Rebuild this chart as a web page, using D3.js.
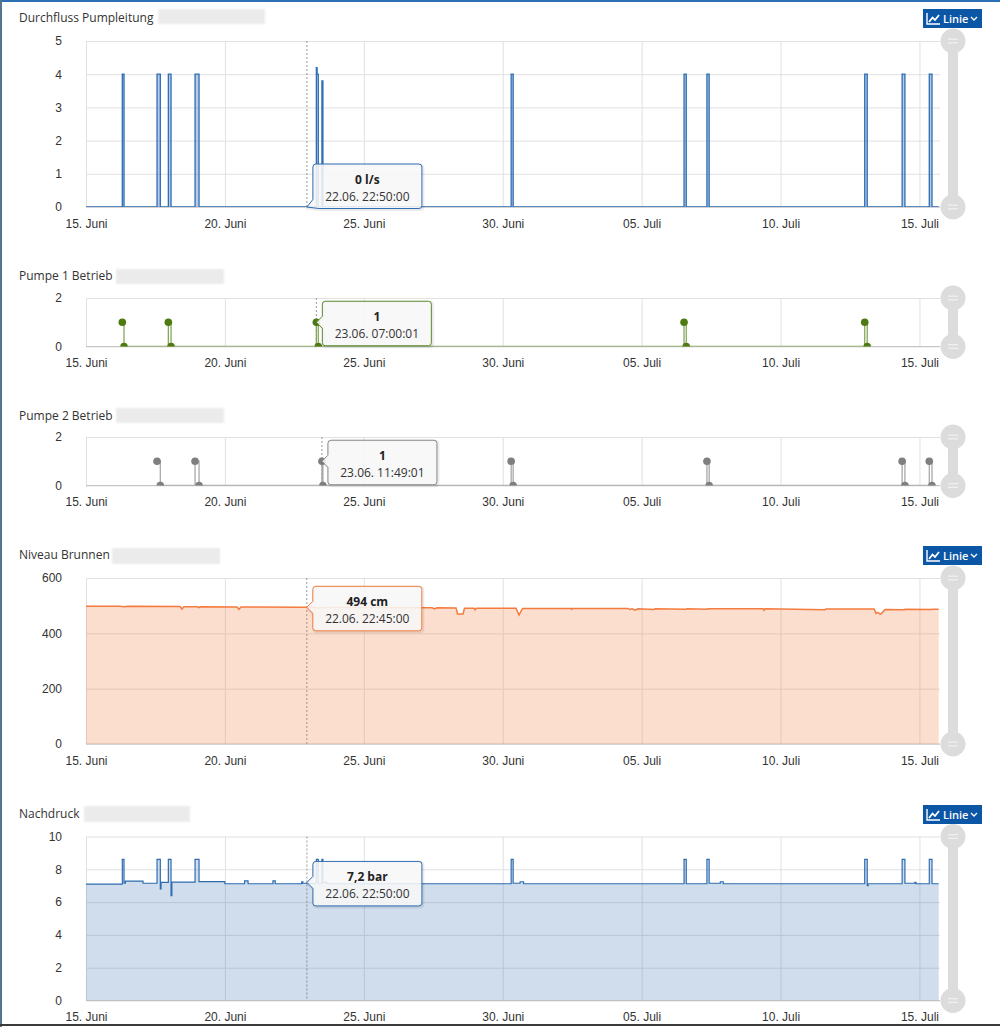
<!DOCTYPE html>
<html lang="de">
<head>
<meta charset="utf-8">
<script src="https://cdn.jsdelivr.net/npm/d3@7"></script>
<style>
  html, body { margin: 0; padding: 0; background: #fff; }
  svg { display: block; font-family: "Open Sans", "DejaVu Sans", sans-serif; }
</style>
</head>
<body>
<svg id="chart" width="1000" height="1027"></svg>
<script>
"use strict";
// Five stacked Highcharts-like panels (flow, pump 1, pump 2, well level, pressure)
// sharing one time axis, each with a hover tooltip and a range slider on the right.

// ---- data ----
const xTickDates = ["06-15 00:00", "06-20 00:00", "06-25 00:00", "06-30 00:00", "07-05 00:00", "07-10 00:00", "07-15 00:00"];
const xTickLabels = ["15. Juni", "20. Juni", "25. Juni", "30. Juni", "05. Juli", "10. Juli", "15. Juli"];

const flowTicks = [0, 1, 2, 3, 4, 5];
const flowTimes = ["06-15 00:00", "06-16 07:22", "06-16 08:50", "06-17 13:22", "06-17 16:12", "06-17 23:08", "06-18 01:28",
  "06-18 22:12", "06-19 01:39", "06-23 07:00", "06-23 07:40", "06-23 08:40", "06-23 11:49", "06-23 12:40",
  "06-30 07:18", "06-30 09:01", "07-06 12:38", "07-06 14:33", "07-07 08:24", "07-07 10:20", "07-13 00:43",
  "07-13 02:53", "07-14 09:02", "07-14 11:27", "07-15 08:30", "07-15 10:50", "07-15 16:40"];
const flowValues = [0, 4, 0, 4, 0, 4, 0, 4, 0, 4.2, 4, 0, 3.8, 0, 4, 0, 4, 0, 4, 0, 4, 0, 4, 0, 4, 0, 0];

const pumpTicks = [0, 2];
const pump1Times = ["06-16 07:22", "06-16 08:50", "06-17 23:08", "06-18 01:28", "06-23 07:00:01", "06-23 08:40",
  "07-06 12:38", "07-06 14:33", "07-13 00:43", "07-13 02:53"];
const pump1States = [1, 0, 1, 0, 1, 0, 1, 0, 1, 0];
const pump2Times = ["06-17 13:22", "06-17 16:12", "06-18 22:12", "06-19 01:39", "06-23 11:49:01", "06-23 12:40",
  "06-30 07:18", "06-30 09:01", "07-07 08:24", "07-07 10:20", "07-14 09:02", "07-14 11:27", "07-15 08:30", "07-15 10:50"];
const pump2States = [1, 0, 1, 0, 1, 0, 1, 0, 1, 0, 1, 0, 1, 0];

const levelTicks = [0, 200, 400, 600];
const levelTimes = ["06-15 00:00", "06-16 05:23", "06-16 08:50", "06-16 12:17", "06-18 09:13", "06-18 10:56", "06-18 12:40",
  "06-18 23:54", "06-19 01:40", "06-19 02:30", "06-20 10:28", "06-20 12:11", "06-20 13:55", "06-22 16:52", "06-22 22:45",
  "06-23 03:15", "06-23 08:24", "06-23 13:00", "06-25 14:00", "06-27 10:55", "06-27 13:05", "06-27 15:14",
  "06-28 07:39", "06-28 08:57", "06-28 13:42", "06-28 15:00", "06-28 23:13", "06-29 00:04", "06-29 01:22",
  "06-30 11:29", "06-30 14:05", "06-30 17:07", "07-02 11:01", "07-02 11:31", "07-02 12:18",
  "07-04 12:14", "07-04 13:58", "07-04 15:42", "07-04 18:17", "07-04 20:53", "07-05 10:42", "07-05 11:30",
  "07-06 14:21", "07-06 15:07", "07-07 08:30", "07-07 09:19", "07-09 08:53", "07-09 09:45", "07-09 10:36",
  "07-11 14:27", "07-11 15:18", "07-13 08:47", "07-13 10:31", "07-13 12:14", "07-13 13:58", "07-13 15:41",
  "07-13 18:17", "07-14 10:42", "07-14 11:31", "07-15 10:54", "07-15 11:40", "07-15 16:40"];
const levelValues = [498, 498, 496, 497.5, 497, 488, 496.5,
  496, 493, 496, 495.5, 487, 495, 494.5, 494,
  494.5, 492, 493.5, 493, 492.5, 488, 492.5,
  492, 470, 470, 491, 491, 485, 491,
  491, 466, 490, 490, 487, 490,
  490, 486, 489, 484, 489, 486, 489,
  487, 489, 487, 489, 488.5, 483, 488.5,
  485.5, 488, 488, 472, 476, 469, 474,
  486, 485, 487, 486, 487, 487];

const pressureTicks = [0, 2, 4, 6, 8, 10];
const pressureTimes = ["06-15 00:00", "06-16 07:22", "06-16 08:50", "06-16 10:00", "06-17 01:15", "06-17 13:22", "06-17 16:12",
  "06-17 16:50", "06-17 23:08", "06-18 01:28", "06-18 02:10", "06-18 22:12", "06-19 01:39", "06-20 00:00", "06-20 17:00",
  "06-20 20:00", "06-21 17:30", "06-21 19:30", "06-22 18:20", "06-22 19:20", "06-23 07:00", "06-23 08:40", "06-23 11:49",
  "06-23 12:40", "06-23 16:00", "06-30 07:18", "06-30 09:01", "06-30 15:00", "06-30 18:00", "07-06 12:38", "07-06 14:33",
  "07-07 08:24", "07-07 10:20", "07-07 20:00", "07-07 22:30", "07-13 00:43", "07-13 02:53", "07-13 03:40", "07-14 09:02",
  "07-14 11:27", "07-14 20:00", "07-14 21:00", "07-15 08:30", "07-15 10:50", "07-15 16:40"];
const pressureValues = [7.1, 8.6, 7.15, 7.28, 7.15, 8.6, 6.8,
  7.2, 8.6, 6.4, 7.22, 8.6, 7.25, 7.12, 7.3,
  7.12, 7.3, 7.12, 7.24, 7.15, 8.6, 7.15, 8.6,
  7.2, 7.12, 8.6, 7.15, 7.24, 7.12, 8.6, 7.12,
  8.6, 7.15, 7.24, 7.12, 8.6, 7.0, 7.12, 8.6,
  7.15, 7.2, 7.12, 8.6, 7.12, 7.12];

// hovered points shown in the tooltips
const tipTimes = ["06-22 22:50", "06-23 07:00:01", "06-23 11:49:01", "06-22 22:45", "06-22 22:50"];
const tipValues = [0, 1, 1, 494, 7.2];
const tipLabels = ["0 l/s", "1", "1", "494 cm", "7,2 bar"];
const tipDates = ["22.06. 22:50:00", "23.06. 07:00:01", "23.06. 11:49:01", "22.06. 22:45:00", "22.06. 22:50:00"];

// ---- helpers ----
const parseT = d3.timeParse("%Y-%m-%d %H:%M:%S");
const T = (s) => parseT("2020-" + s + (s.length === 11 ? ":00" : ""));
const zip = (ts, vs) => ts.map((t, i) => ({ t: T(t), v: vs[i] }));

const svg = d3.select("#chart");
const defs = svg.append("defs");
defs.append("filter").attr("id", "blur").append("feGaussianBlur").attr("stdDeviation", 1.2);

const X0 = 86, X1 = 940;
const x = d3.scaleTime().domain([T("06-15 00:00"), T("07-15 17:45")]).range([X0, X1]);
const xTicks = xTickDates.map(T);

// window frame
svg.append("rect").attr("x", 0).attr("y", 0).attr("width", 1000).attr("height", 2).attr("fill", "#2d6fb5");
svg.append("rect").attr("x", 0).attr("y", 0).attr("width", 2).attr("height", 1027).attr("fill", "#55758f");
svg.append("rect").attr("x", 0).attr("y", 1024).attr("width", 1000).attr("height", 2).attr("fill", "#3a3a3a");

const panels = [
  { key: "flow", title: "Durchfluss Pumpleitung", titleY: 21.5, blur: [158, 9, 107, 15], top: 41, bottom: 207, ticks: flowTicks, button: 9 },
  { key: "p1", title: "Pumpe 1 Betrieb", titleY: 280, blur: [116, 269, 108, 15], top: 298, bottom: 346.5, ticks: pumpTicks },
  { key: "p2", title: "Pumpe 2 Betrieb", titleY: 419.5, blur: [116, 408, 108, 15], top: 437, bottom: 485.5, ticks: pumpTicks },
  { key: "level", title: "Niveau Brunnen", titleY: 559, blur: [112, 548, 108, 16], top: 578, bottom: 744, ticks: levelTicks, button: 546 },
  { key: "press", title: "Nachdruck", titleY: 817.5, blur: [84, 806, 106, 16], top: 836.5, bottom: 1000.5, ticks: pressureTicks, button: 805 },
];

function frame(p) {
  const y = d3.scaleLinear().domain(d3.extent(p.ticks)).range([p.bottom, p.top]);
  const g = svg.append("g");
  g.append("rect").attr("x", p.blur[0]).attr("y", p.blur[1]).attr("width", p.blur[2]).attr("height", p.blur[3])
    .attr("fill", "#ebebeb").attr("filter", "url(#blur)");
  g.append("text").attr("x", 19).attr("y", p.titleY).attr("font-size", 12).attr("fill", "#333").text(p.title);

  // grid
  g.append("g").attr("transform", `translate(${X0},0)`)
    .call(d3.axisLeft(y).tickValues(p.ticks).tickSize(-(X1 - X0)).tickFormat(""))
    .call((s) => s.select(".domain").remove())
    .selectAll("line").attr("stroke", "#e1e1e1");
  g.append("g").attr("transform", `translate(0,${p.bottom})`)
    .call(d3.axisBottom(x).tickValues(xTicks).tickSize(-(p.bottom - p.top)).tickFormat(""))
    .call((s) => s.select(".domain").remove())
    .selectAll("line").attr("stroke", "#e1e1e1");
  g.append("line").attr("x1", X0).attr("x2", X1).attr("y1", p.bottom).attr("y2", p.bottom).attr("stroke", "#c6c6c6");

  // labels
  g.append("g").attr("transform", `translate(${X0},0)`)
    .call(d3.axisLeft(y).tickValues(p.ticks).tickSize(0).tickPadding(24).tickFormat(d3.format("d")))
    .call((s) => s.select(".domain").remove())
    .selectAll("text").attr("font-size", 12).attr("fill", "#333").attr("font-family", null);
  g.append("g").attr("transform", `translate(0,${p.bottom})`)
    .call(d3.axisBottom(x).tickValues(xTicks).tickSize(0).tickPadding(12).tickFormat((d, i) => xTickLabels[i]))
    .call((s) => s.select(".domain").remove())
    .selectAll("text").attr("font-size", 12).attr("fill", "#333").attr("font-family", null);

  // range slider
  g.append("rect").attr("x", 948).attr("y", p.top).attr("width", 10).attr("height", p.bottom - p.top).attr("fill", "#dcdcdc");
  [p.top, p.bottom].forEach((cy) => {
    g.append("circle").attr("cx", 953).attr("cy", cy).attr("r", 12.5).attr("fill", "#dcdcdc");
    [-1.8, 1.8].forEach((o) => g.append("line").attr("x1", 948).attr("x2", 958).attr("y1", cy + o).attr("y2", cy + o)
      .attr("stroke", "#f2f2f2").attr("stroke-width", 1.2));
  });

  if (p.button != null) {
    const b = g.append("g").attr("transform", `translate(923,${p.button})`);
    b.append("rect").attr("width", 59).attr("height", 19).attr("fill", "#0b56a5");
    b.append("path").attr("d", "M4,4V15H17").attr("fill", "none").attr("stroke", "#fff").attr("stroke-width", 1.4);
    b.append("path").attr("d", "M6,13L9.5,8.5L12,11L16,6").attr("fill", "none").attr("stroke", "#fff").attr("stroke-width", 1.8);
    b.append("text").attr("x", 20).attr("y", 13.5).attr("font-size", 11).attr("font-weight", 600).attr("fill", "#fff").text("Linie");
    b.append("path").attr("d", "M48,8L51,11L54,8").attr("fill", "none").attr("stroke", "#fff").attr("stroke-width", 1.3);
  }

  const clipId = "clip-" + p.key;
  defs.append("clipPath").attr("id", clipId).append("rect")
    .attr("x", X0).attr("y", p.top - 1).attr("width", X1 - X0).attr("height", p.bottom - p.top + 1);
  return { g, y, clip: `url(#${clipId})` };
}

function crosshair(f, p, t) {
  f.g.append("line").attr("x1", x(t)).attr("x2", x(t)).attr("y1", p.top).attr("y2", p.bottom)
    .attr("stroke", "#999").attr("stroke-dasharray", "2,2");
}

function areaSeries(f, data, color, fillOpacity, curve, width) {
  const area = d3.area().curve(curve).x((d) => x(d.t)).y0(f.y(0)).y1((d) => f.y(d.v));
  const line = d3.line().curve(curve).x((d) => x(d.t)).y((d) => f.y(d.v));
  const s = f.g.append("g").attr("clip-path", f.clip);
  s.append("path").datum(data).attr("d", area).attr("fill", color).attr("fill-opacity", fillOpacity);
  s.append("path").datum(data).attr("d", line).attr("fill", "none").attr("stroke", color).attr("stroke-width", width);
}

function pumpSeries(f, data, lineColor, markerColor) {
  const line = d3.line().curve(d3.curveStepAfter).x((d) => x(d.t)).y((d) => f.y(d.v));
  const s = f.g.append("g").attr("clip-path", f.clip);
  s.append("path").datum(data).attr("d", line).attr("fill", "none").attr("stroke", lineColor).attr("stroke-width", 1.3);
  s.selectAll("circle").data(data).join("circle")
    .attr("cx", (d) => x(d.t)).attr("cy", (d) => f.y(d.v)).attr("r", 3.8).attr("fill", markerColor);
}

function tooltip(f, p, i, color) {
  const ax = x(T(tipTimes[i])), ay = f.y(tipValues[i]);
  const w = 109, h = 44.5, r = 3;
  const bx = ax + 6, by = Math.min(ay - 21, p.bottom + 1.5 - h);
  const bx1 = bx + w, by1 = by + h;
  let d = `M${bx + r},${by}L${bx1 - r},${by}Q${bx1},${by} ${bx1},${by + r}L${bx1},${by1 - r}Q${bx1},${by1} ${bx1 - r},${by1}`;
  if (ay > by1 - 9) d += `L${bx + 6},${by1}L${ax},${ay}L${bx},${by1 - 9}`;
  else d += `L${bx + r},${by1}Q${bx},${by1} ${bx},${by1 - r}L${bx},${ay + 6}L${ax},${ay}L${bx},${ay - 6}`;
  d += `L${bx},${by + r}Q${bx},${by} ${bx + r},${by}Z`;
  const g = f.g.append("g");
  g.append("path").attr("d", d).attr("transform", "translate(1,1)").attr("fill", "none")
    .attr("stroke", "#000").attr("stroke-opacity", 0.08).attr("stroke-width", 3);
  g.append("path").attr("d", d).attr("fill", "#f7f7f7").attr("fill-opacity", 0.88).attr("stroke", color).attr("stroke-width", 1);
  g.append("text").attr("x", bx + w / 2).attr("y", by + 20).attr("text-anchor", "middle").attr("font-size", 12)
    .attr("font-weight", "bold").attr("fill", "#222").text(tipLabels[i]);
  g.append("text").attr("x", bx + w / 2).attr("y", by + 37).attr("text-anchor", "middle").attr("font-size", 12)
    .attr("fill", "#333").text(tipDates[i]);
}

// ---- panels ----
const frames = panels.map(frame);
panels.forEach((p, i) => crosshair(frames[i], p, T(tipTimes[i])));

areaSeries(frames[0], zip(flowTimes, flowValues), "#2f6eb5", 0.35, d3.curveStepAfter, 1.3);
pumpSeries(frames[1], zip(pump1Times, pump1States), "#86a85c", "#4f7a12");
pumpSeries(frames[2], zip(pump2Times, pump2States), "#a8a8a8", "#7f7f7f");
areaSeries(frames[3], zip(levelTimes, levelValues), "#f47b3e", 0.25, d3.curveLinear, 1.5);
areaSeries(frames[4], zip(pressureTimes, pressureValues), "#2e6cb0", 0.23, d3.curveStepAfter, 1.2);

const tipColors = ["#2f6eb5", "#5b8a2e", "#8a8a8a", "#f47b3e", "#2e6cb0"];
panels.forEach((p, i) => tooltip(frames[i], p, i, tipColors[i]));
</script>
</body>
</html>
